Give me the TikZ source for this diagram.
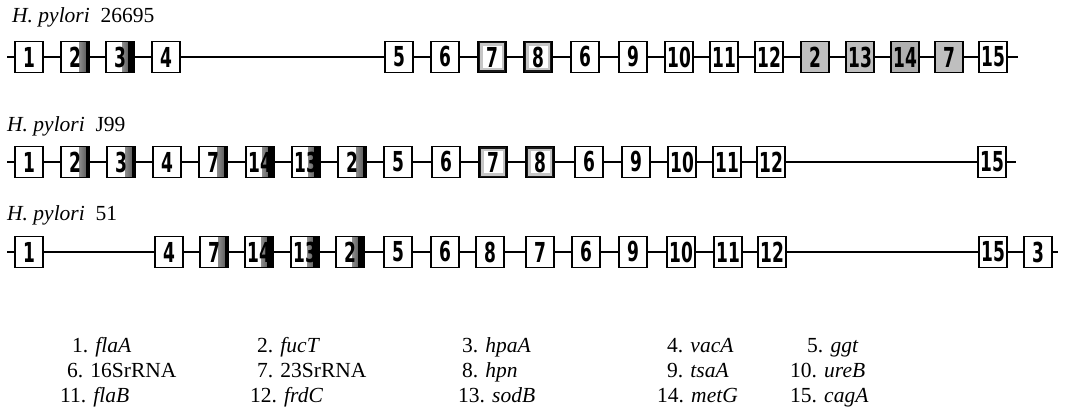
\documentclass[tikz,border=0pt]{standalone}
\usepackage{fontspec}
\usepackage{graphicx}
\setmainfont{Liberation Serif}
\newfontfamily\digfont{DejaVu Sans}
\newcommand\gnum[1]{\scalebox{0.62}[1]{\digfont\bfseries\fontsize{27.5}{27.5}\selectfont #1}}
\tikzset{
  gene/.style={draw, line width=1.3pt, fill=white, minimum width=28pt, minimum height=31pt, inner sep=0pt},
  gplain/.style={},
  gthin/.style={path picture={
     \shade[left color=white, right color=gray!60!black] ([xshift=-10pt]path picture bounding box.north east) rectangle ([xshift=-3pt]path picture bounding box.south east);
     \fill[black] ([xshift=-3.5pt]path picture bounding box.north east) rectangle (path picture bounding box.south east);}},
  gbold/.style={path picture={
     \shade[left color=white, right color=gray!45!black] ([xshift=-12pt]path picture bounding box.north east) rectangle ([xshift=-6pt]path picture bounding box.south east);
     \fill[black] ([xshift=-6.5pt]path picture bounding box.north east) rectangle (path picture bounding box.south east);}},
  gframe/.style={line width=1.8pt, path picture={
     \draw[gray!45, line width=9pt] (path picture bounding box.south west) rectangle (path picture bounding box.north east);
     \draw[gray!20!black, line width=4pt] (path picture bounding box.south west) rectangle (path picture bounding box.north east);}},
  ggray/.style={fill=gray!50},
  ggrayd/.style={fill=gray!62},
  conn/.style={line width=1.2pt},
  title/.style={font=\fontsize{21.5}{24}\selectfont, inner sep=0pt, anchor=base west},
  leg/.style={font=\fontsize{21.5}{24}\selectfont, inner sep=0pt, anchor=base west}
}
\begin{document}
\begin{tikzpicture}[x=1pt, y=-1pt]
\useasboundingbox (0,0) rectangle (1066,420);
% titles
\node[title] (t1) at (12,23) {\textit{H. pylori}\ \ 26695};
\node[title] (t2) at (7,131) {\textit{H. pylori}\ \ J99};
\node[title] (t3) at (7,220) {\textit{H. pylori}\ \ 51};
% row 1
\foreach \x/\n/\s [count=\i] in {29/1/gplain, 75/2/gthin, 120/3/gbold, 166/4/gplain, 399/5/gplain, 445/6/gplain, 492/7/gframe, 538/8/gframe, 585/6/gplain, 633/9/gplain, 679/10/gplain, 724/11/gplain, 769/12/gplain, 815/2/ggray, 860/13/ggray, 905/14/ggrayd, 949/7/ggray, 993/15/gplain}
  \node[gene,\s] (a\i) at (\x,57) {\gnum{\n}};
\coordinate (a0) at (7,57);
\coordinate (aE) at (1018,57);
\foreach \i [count=\j from 0] in {1,...,18} \draw[conn] (a\j) -- (a\i);
\draw[conn] (a18) -- (aE);
% row 2
\foreach \x/\n/\s [count=\i] in {29/1/gplain, 75/2/gthin, 121/3/gthin, 167/4/gplain, 213/7/gthin, 260/14/gbold, 306/13/gbold, 352/2/gthin, 398/5/gplain, 446/6/gplain, 493/7/gframe, 540/8/gframe, 589/6/gplain, 636/9/gplain, 682/10/gplain, 727/11/gplain, 771/12/gplain, 992/15/gplain}
  \node[gene,\s] (b\i) at (\x,162) {\gnum{\n}};
\coordinate (b0) at (7,162);
\coordinate (bE) at (1016,162);
\foreach \i [count=\j from 0] in {1,...,18} \draw[conn] (b\j) -- (b\i);
\draw[conn] (b18) -- (bE);
% row 3
\foreach \x/\n/\s [count=\i] in {29/1/gplain, 169/4/gplain, 214/7/gthin, 259/14/gbold, 305/13/gbold, 350/2/gbold, 398/5/gplain, 445/6/gplain, 490/8/gplain, 540/7/gplain, 586/6/gplain, 633/9/gplain, 681/10/gplain, 728/11/gplain, 772/12/gplain, 993/15/gplain, 1038/3/gplain}
  \node[gene,\s] (c\i) at (\x,252) {\gnum{\n}};
\coordinate (c0) at (7,252);
\coordinate (cE) at (1058,252);
\foreach \i [count=\j from 0] in {1,...,17} \draw[conn] (c\j) -- (c\i);
\draw[conn] (c17) -- (cE);
% legend
\node[leg] (l1) at (72,352) {1. \textit{flaA}};
\node[leg] (l2) at (257,352) {2. \textit{fucT}};
\node[leg] (l3) at (462,352) {3. \textit{hpaA}};
\node[leg] (l4) at (667,352) {4. \textit{vacA}};
\node[leg] (l5) at (807,352) {5. \textit{ggt}};
\node[leg] (l6) at (67,377) {6. 16SrRNA};
\node[leg] (l7) at (257,377) {7. 23SrRNA};
\node[leg] (l8) at (462,377) {8. \textit{hpn}};
\node[leg] (l9) at (667,377) {9. \textit{tsaA}};
\node[leg] (l10) at (790,377) {10. \textit{ureB}};
\node[leg] (l11) at (60,402) {11. \textit{flaB}};
\node[leg] (l12) at (250,402) {12. \textit{frdC}};
\node[leg] (l13) at (458,402) {13. \textit{sodB}};
\node[leg] (l14) at (657,402) {14. \textit{metG}};
\node[leg] (l15) at (790,402) {15. \textit{cagA}};
\end{tikzpicture}
\end{document}
